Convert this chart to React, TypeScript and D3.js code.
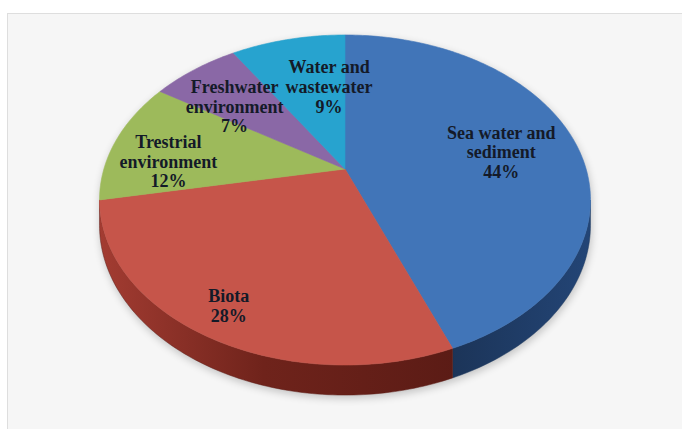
import React from "react";
import * as d3 from "d3";

// ---- data ----
const categories = [
  "Sea water and sediment",
  "Biota",
  "Trestrial environment",
  "Freshwater environment",
  "Water and wastewater",
];
const values = [44, 28, 12, 7, 9];
const labelLines = [
  ["Sea water and", "sediment", "44%"],
  ["Biota", "28%"],
  ["Trestrial", "environment", "12%"],
  ["Freshwater", "environment", "7%"],
  ["Water and", "wastewater", "9%"],
];

// ---- styles / layout ----
const topColors = ["#4175b8", "#c6554a", "#9dba5b", "#8a68a6", "#27a3cf"];
const wallColors = ["#1f3a61", "#6a2119", "#5f7434", "#4f3a66", "#176a88"];
// label placement: radial fraction and angular nudge (deg) from slice mid-angle
const labelLayout = [
  { r: 0.67, nudge: 1.5 },
  { r: 0.85, nudge: 0.4 },
  { r: 0.74, nudge: -7.3 },
  { r: 0.65, nudge: -4.5 },
  { r: 0.575, nudge: 8.9 },
];

const W = 682;
const H = 429;
const cx = 345;
const cy = 169;
const A = 241.1; // horizontal scale
const B = 159.2; // depth scale
const K = 0.1879; // perspective factor
const DEPTH = 24.4;

function proj(phi: number, r: number, dz = 0): [number, number] {
  const u = r * Math.sin(phi);
  const v = -r * Math.cos(phi);
  const s = 1 / (1 - K * v);
  return [cx + A * u * s, cy + (B * v + dz) * s];
}

function arcPoints(a0: number, a1: number, dz = 0): [number, number][] {
  const n = Math.max(2, Math.ceil((Math.abs(a1 - a0) * 180) / Math.PI));
  return d3.range(n + 1).map((i) => proj(a0 + ((a1 - a0) * i) / n, 1, dz));
}

export default function App() {
  const pie = d3
    .pie<number>()
    .sort(null)
    .value((d) => d)
    .startAngle(0)
    .endAngle(2 * Math.PI);
  const arcs = pie(values);
  const line = d3.line().curve(d3.curveLinear);

  const phiR = Math.acos(-K);
  const phiL = 2 * Math.PI - Math.acos(-K);

  const walls = arcs
    .map((a, i) => {
      const s = Math.max(a.startAngle, phiR);
      const e = Math.min(a.endAngle, phiL);
      if (e <= s) return null;
      const pts = [...arcPoints(s, e, 0), ...arcPoints(e, s, DEPTH)];
      return { i, d: line(pts) + "Z" };
    })
    .filter(Boolean) as { i: number; d: string }[];

  const tops = arcs.map((a, i) => {
    const pts = [proj(0, 0), ...arcPoints(a.startAngle, a.endAngle, 0)];
    return { i, d: line(pts) + "Z" };
  });

  const shadowPts = [
    ...arcPoints(phiL, 2 * Math.PI + phiR, 0),
    ...arcPoints(phiR, phiL, DEPTH),
  ];
  const shadow = line(shadowPts) + "Z";

  const labels = arcs.map((a, i) => {
    const mid = (a.startAngle + a.endAngle) / 2 + (labelLayout[i].nudge * Math.PI) / 180;
    const [x, y] = proj(mid, labelLayout[i].r);
    return { i, x, y, lines: labelLines[i] };
  });

  const lh = 19.6;

  return (
    <svg
      width={W}
      height={H}
      style={{ position: "absolute", left: 0, top: 0, display: "block" }}
      xmlns="http://www.w3.org/2000/svg"
    >
      <defs>
        <filter id="blur" x="-20%" y="-20%" width="140%" height="140%">
          <feGaussianBlur stdDeviation="4" />
        </filter>
        <linearGradient id="wall1" gradientUnits="userSpaceOnUse" x1={cx - A * 1.02} y1="0" x2={cx + A * 0.5} y2="0">
          <stop offset="0" stopColor="#a33c32" />
          <stop offset="0.45" stopColor="#6f231b" />
          <stop offset="1" stopColor="#5a1b15" />
        </linearGradient>
        <linearGradient id="wall0" gradientUnits="userSpaceOnUse" x1={cx + A * 0.4} y1="0" x2={cx + A * 1.02} y2="0">
          <stop offset="0" stopColor="#1b3356" />
          <stop offset="1" stopColor="#234576" />
        </linearGradient>
      </defs>
      <rect x={0} y={0} width={W} height={H} fill="#ffffff" />
      <rect x={7.5} y={13.5} width={W} height={H} fill="#f6f6f6" stroke="#dedede" strokeWidth={1} />
      <path d={shadow} fill="#000" opacity={0.22} filter="url(#blur)" transform="translate(1,3)" />
      {walls.map((w) => (
        <path
          key={"w" + w.i}
          d={w.d}
          fill={w.i === 1 ? "url(#wall1)" : w.i === 0 ? "url(#wall0)" : wallColors[w.i]}
          stroke={w.i === 1 ? "#5f1d16" : wallColors[w.i]}
          strokeWidth={0.5}
        />
      ))}
      {tops.map((t) => (
        <path key={"t" + t.i} d={t.d} fill={topColors[t.i]} stroke={topColors[t.i]} strokeWidth={0.6} />
      ))}
      {labels.map((l) => (
        <text
          key={"l" + l.i}
          x={l.x}
          y={l.y}
          textAnchor="middle"
          fontFamily="'Liberation Serif', 'Times New Roman', serif"
          fontWeight="bold"
          fontSize={18}
          fill="#141a28"
        >
          {l.lines.map((s, j) => (
            <tspan key={j} x={l.x} y={l.y + (j - (l.lines.length - 1) / 2) * lh + 6}>
              {s}
            </tspan>
          ))}
        </text>
      ))}
    </svg>
  );
}
